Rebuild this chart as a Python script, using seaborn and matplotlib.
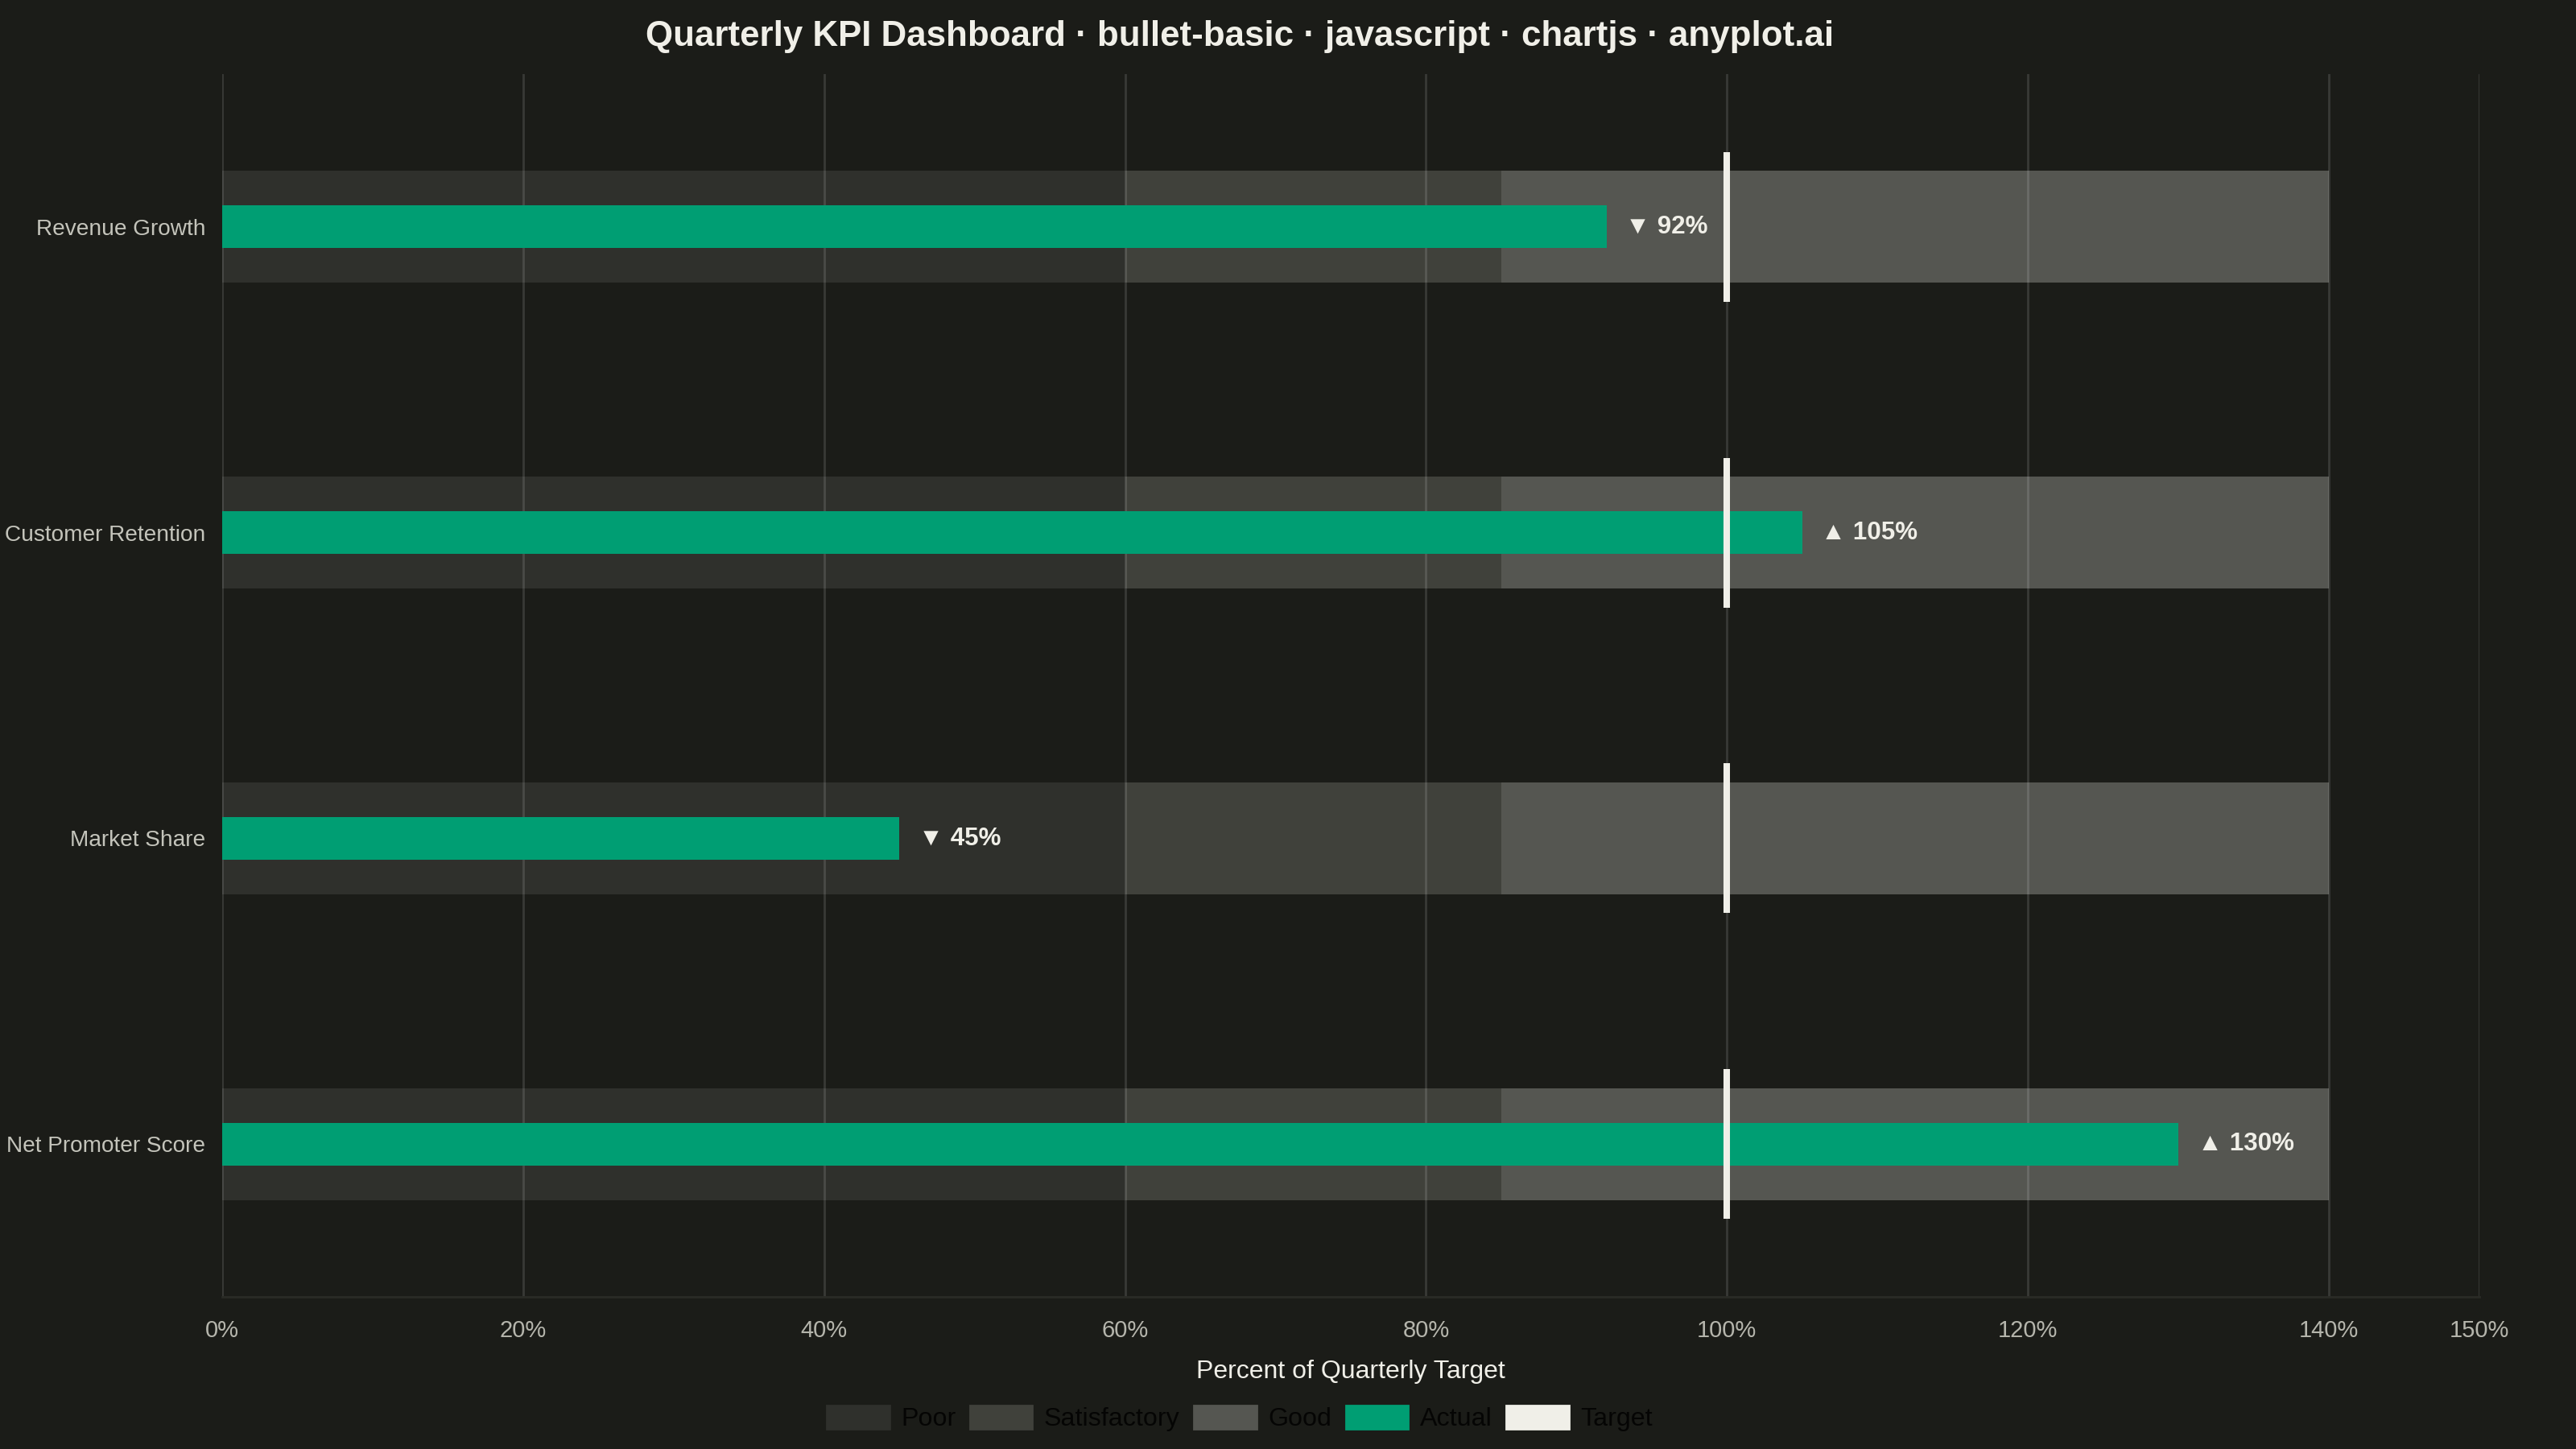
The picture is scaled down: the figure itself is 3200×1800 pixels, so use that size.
import matplotlib
matplotlib.use("Agg")
import matplotlib.pyplot as plt
import matplotlib.patches as mpatches
import seaborn as sns
import pandas as pd

# data
kpis = ["Revenue Growth", "Customer Retention", "Market Share", "Net Promoter Score"]
actual = [92, 105, 45, 130]
target = [100, 100, 100, 100]
poor_end = [60, 60, 60, 60]
satisfactory_end = [85, 85, 85, 85]
good_end = [140, 140, 140, 140]
x_ticks = [0, 20, 40, 60, 80, 100, 120, 140, 150]

bg = "#1b1c18"
c_poor = "#2f302c"
c_sat = "#40413b"
c_good = "#555651"
c_actual = "#009e73"
c_target = "#f0efe8"

sns.set_theme(style="dark")
plt.rcParams["font.family"] = ["Liberation Sans", "DejaVu Sans"]

df = pd.DataFrame({"kpi": kpis, "actual": actual, "target": target,
                   "poor": poor_end, "sat": satisfactory_end, "good": good_end})

fig = plt.figure(figsize=(16, 9), dpi=200, facecolor=bg)
ax = fig.add_axes([276 / 3200, 1 - 1611 / 1800, (3080 - 276) / 3200, (1611 - 92) / 1800])
ax.set_facecolor(bg)

# qualitative bands, widest first
band_w = 0.366
for col, c in [("good", c_good), ("sat", c_sat), ("poor", c_poor)]:
    sns.barplot(data=df, x=col, y="kpi", color=c, width=band_w, saturation=1,
                orient="h", ax=ax, zorder=1, linewidth=0, edgecolor="none")

# grid over the bands
for t in x_ticks:
    ax.axvline(t, color="white", alpha=0.13, lw=1.0, zorder=2)

# actual bar
sns.barplot(data=df, x="actual", y="kpi", color=c_actual, width=0.14, saturation=1,
            orient="h", ax=ax, zorder=3, linewidth=0, edgecolor="none")

# target markers
for i, t in enumerate(target):
    ax.vlines(t, i - 0.245, i + 0.245, color=c_target, lw=2.9, zorder=4)

# value labels
for i, (a, t) in enumerate(zip(actual, target)):
    arrow = "▲" if a >= t else "▼"
    ax.annotate(f"{arrow} {a}%", xy=(a, i), xytext=(8.5, 0), textcoords="offset points",
                ha="left", va="center", color=c_target, fontsize=11.3, fontweight="bold",
                zorder=5)

ax.set_xlim(0, 150)
ax.set_ylim(3.5, -0.5)
ax.set_xticks(x_ticks)
ax.set_xticklabels([f"{t}%" for t in x_ticks])
ax.tick_params(axis="x", colors="#3a3b36", length=6, width=1, pad=4, labelcolor="#b5b5ac",
               labelsize=10.5)
ax.tick_params(axis="y", length=0, pad=7.5, labelcolor="#c4c4bb", labelsize=10.1)
ax.set_ylabel("")
ax.set_xlabel("Percent of Quarterly Target", color=c_target, fontsize=11.5, labelpad=8)
for side in ["top", "right", "left"]:
    ax.spines[side].set_visible(False)
ax.spines["bottom"].set_color("#2a2b26")
ax.spines["bottom"].set_linewidth(1)

fig.text(1540 / 3200, 1 - 46 / 1800,
         "Quarterly KPI Dashboard · bullet-basic · javascript · chartjs · anyplot.ai",
         ha="center", va="center", color=c_target, fontsize=15.8, fontweight="bold")

handles = [mpatches.Patch(color=c, label=l) for c, l in
           [(c_poor, "Poor"), (c_sat, "Satisfactory"), (c_good, "Good"),
            (c_actual, "Actual"), (c_target, "Target")]]
fig.legend(handles=handles, loc="center", bbox_to_anchor=(1540 / 3200, 1 - 1762 / 1800),
           ncol=5, frameon=False, fontsize=11.6, labelcolor="#050504",
           handlelength=2.4, handleheight=1.0, handletextpad=0.45, columnspacing=0.55)

fig.savefig("out.png", dpi=200, facecolor=bg)
